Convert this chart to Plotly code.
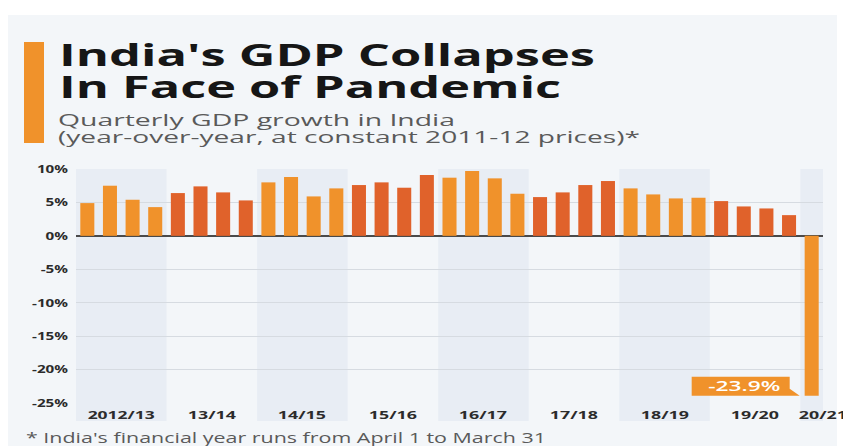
import json
import plotly.graph_objects as go

# ---------------- data ----------------
fiscal_years = ["2012/13", "13/14", "14/15", "15/16", "16/17",
                "17/18", "18/19", "19/20", "20/21"]
quarters_per_year = 4
growth = [4.9, 7.5, 5.4, 4.3,
          6.4, 7.4, 6.5, 5.3,
          8.0, 8.8, 5.9, 7.1,
          7.6, 8.0, 7.2, 9.1,
          8.7, 9.7, 8.6, 6.3,
          5.8, 6.5, 7.6, 8.2,
          7.1, 6.2, 5.6, 5.7,
          5.2, 4.4, 4.1, 3.1,
          -23.9]
y_ticks = [-25, -20, -15, -10, -5, 0, 5, 10]
y_tick_labels = [f"{v}%" for v in y_ticks]

title_lines = ["India's GDP Collapses", "In Face of Pandemic"]
subtitle_lines = ["Quarterly GDP growth in India",
                  "(year-over-year, at constant 2011-12 prices)*"]
footnote = "* India's financial year runs from April 1 to March 31"
last_label = f"{growth[-1]}%"

# ---------------- layout helpers ----------------
W, H = 843, 446
L, R, T, B = 76, 20, 169, 43
PW, PH = W - L - R, H - T - B


def px_x(px):
    return (px - L) / PW


def px_y(py):
    return (H - B - py) / PH


LIGHT = "#f0922b"
DARK = "#e0622b"
CARD = "#f3f6f9"
BAND = "#e8edf4"
FONT = "Open Sans"
ASC, CAP = 1.069, 0.714   # Open Sans ascent / cap height (em)

n = len(growth)
x_idx = list(range(n))
year_of = [i // quarters_per_year for i in x_idx]
colors = [LIGHT if y % 2 == 0 else DARK for y in year_of]

fig = go.Figure(go.Bar(
    x=x_idx, y=growth, marker_color=colors, marker_line_width=0,
    width=0.62, hoverinfo="skip"))

shapes = []
# card background
shapes.append(dict(type="rect", xref="paper", yref="paper",
                   x0=px_x(8), x1=px_x(837), y0=px_y(447), y1=px_y(15),
                   fillcolor=CARD, line_width=0, layer="below"))
# orange accent bar
shapes.append(dict(type="rect", xref="paper", yref="paper",
                   x0=px_x(24), x1=px_x(44), y0=px_y(143), y1=px_y(42),
                   fillcolor=LIGHT, line_width=0, layer="below"))
# alternating fiscal-year bands
for i, fy in enumerate(fiscal_years):
    if i % 2 == 0:
        x0 = i * quarters_per_year - 0.5
        x1 = min(x0 + quarters_per_year, n - 0.5)
        shapes.append(dict(type="rect", xref="x", yref="paper",
                           x0=x0, x1=x1, y0=px_y(421), y1=1,
                           fillcolor=BAND, line_width=0, layer="below"))
# label box with pointer next to the last bar
shapes.append(dict(type="path", xref="x", yref="y",
                   xsizemode="pixel", ysizemode="pixel",
                   xanchor=n - 1, yanchor=growth[-1],
                   path="M -120,0 L -12,0 L -22,7 L -22,19 L -120,19 Z",
                   fillcolor=LIGHT, line_width=0))

annotations = []
TITLE_SIZE, SUB_SIZE = 30, 16.5
title_cap_center, title_pitch = 54, 32
sub_cap_center, sub_pitch = 119, 17


def top_for(cap_center, size):
    return cap_center - (1 + (ASC - CAP / 2) * size)


annotations.append(dict(text="<br>".join(title_lines), x=px_x(57),
                        y=px_y(top_for(title_cap_center, TITLE_SIZE)),
                        xref="paper", yref="paper", xanchor="left",
                        yanchor="top", align="left", showarrow=False,
                        font=dict(family=FONT, size=TITLE_SIZE,
                                  color="#161616", weight="bold")))
annotations.append(dict(text="<br>".join(subtitle_lines), x=px_x(56),
                        y=px_y(top_for(sub_cap_center, SUB_SIZE)),
                        xref="paper", yref="paper", xanchor="left",
                        yanchor="top", align="left", showarrow=False,
                        font=dict(family=FONT, size=SUB_SIZE,
                                  color="#5a5a5a")))
annotations.append(dict(text=footnote, x=px_x(24), y=px_y(437), xref="paper",
                        yref="paper", xanchor="left", yanchor="middle",
                        align="left", showarrow=False,
                        font=dict(family=FONT, size=14, color="#5a5a5a")))
for i, fy in enumerate(fiscal_years):
    xc = min(i * quarters_per_year + 1.5, n - 0.5)
    annotations.append(dict(text=fy, x=xc, y=px_y(414), xref="x",
                            yref="paper", xanchor="center", yanchor="middle",
                            showarrow=False,
                            font=dict(family=FONT, size=11, color="#2b2b2b",
                                      weight="bold")))
annotations.append(dict(text=last_label, x=n - 1, y=growth[-1], xref="x",
                        yref="y", xanchor="center", yanchor="middle",
                        xshift=-68, yshift=10, showarrow=False,
                        font=dict(family=FONT, size=14, color="white",
                                  weight=600)))

fig.update_layout(
    width=W, height=H, autosize=False,
    margin=dict(l=L, r=R, t=T, b=B, pad=0),
    paper_bgcolor="white", plot_bgcolor="rgba(0,0,0,0)",
    showlegend=False, hovermode=False,
    shapes=shapes, annotations=annotations,
    xaxis=dict(range=[-0.5, n - 0.5], showgrid=False, zeroline=False,
               showticklabels=False, ticks="", fixedrange=True),
    yaxis=dict(range=[y_ticks[0], y_ticks[-1]], tickvals=y_ticks,
               ticktext=y_tick_labels, ticks="", showgrid=True,
               gridcolor="#d6dbe1", gridwidth=1, zeroline=True,
               zerolinecolor="#4a4a4a", zerolinewidth=1.6,
               ticklabelstandoff=7, fixedrange=True,
               tickfont=dict(family=FONT, size=11, color="#2b2b2b",
                             weight="bold")),
)

# target rendered widths of texts (the reference text is horizontally wide)
text_widths = {
    title_lines[0]: 536, title_lines[1]: 502,
    subtitle_lines[0]: 397, subtitle_lines[1]: 582,
    footnote: 520, last_label: 72,
}
for i, fy in enumerate(fiscal_years):
    text_widths[fy] = 67 if i == 0 else 48
line_pitch = {title_lines[1]: title_pitch, subtitle_lines[1]: sub_pitch}
tick_ref = [y_tick_labels[0], 36]

js = """
document.body.style.margin = '0';
document.body.style.padding = '0';
var gd = document.getElementById('{plot_id}');
var targets = %s;
var pitch = %s;
var tickRef = %s;
function stretch(t, target){
  t.setAttribute('textLength', target.toFixed(1));
  t.setAttribute('lengthAdjust', 'spacingAndGlyphs');
}
var tickFactor = null;
gd.querySelectorAll('.ytick text').forEach(function(t){
  if (t.textContent === tickRef[0]) {
    var w0 = t.getComputedTextLength();
    if (w0 > 0) tickFactor = tickRef[1] / w0;
  }
});
gd.querySelectorAll('text').forEach(function(t){
  var s = t.textContent, w = t.getComputedTextLength();
  if (!(w > 0)) return;
  if (t.closest('.ytick')) { if (tickFactor) stretch(t, w * tickFactor); }
  else if (targets.hasOwnProperty(s)) stretch(t, targets[s]);
});
gd.querySelectorAll('tspan.line').forEach(function(t){
  var s = t.textContent;
  if (pitch.hasOwnProperty(s)) t.setAttribute('dy', pitch[s] + 'px');
  if (targets.hasOwnProperty(s)) stretch(t, targets[s]);
});
""" % (json.dumps(text_widths), json.dumps(line_pitch), json.dumps(tick_ref))

fig.write_html("out.html", post_script=js, config={"displayModeBar": False})
